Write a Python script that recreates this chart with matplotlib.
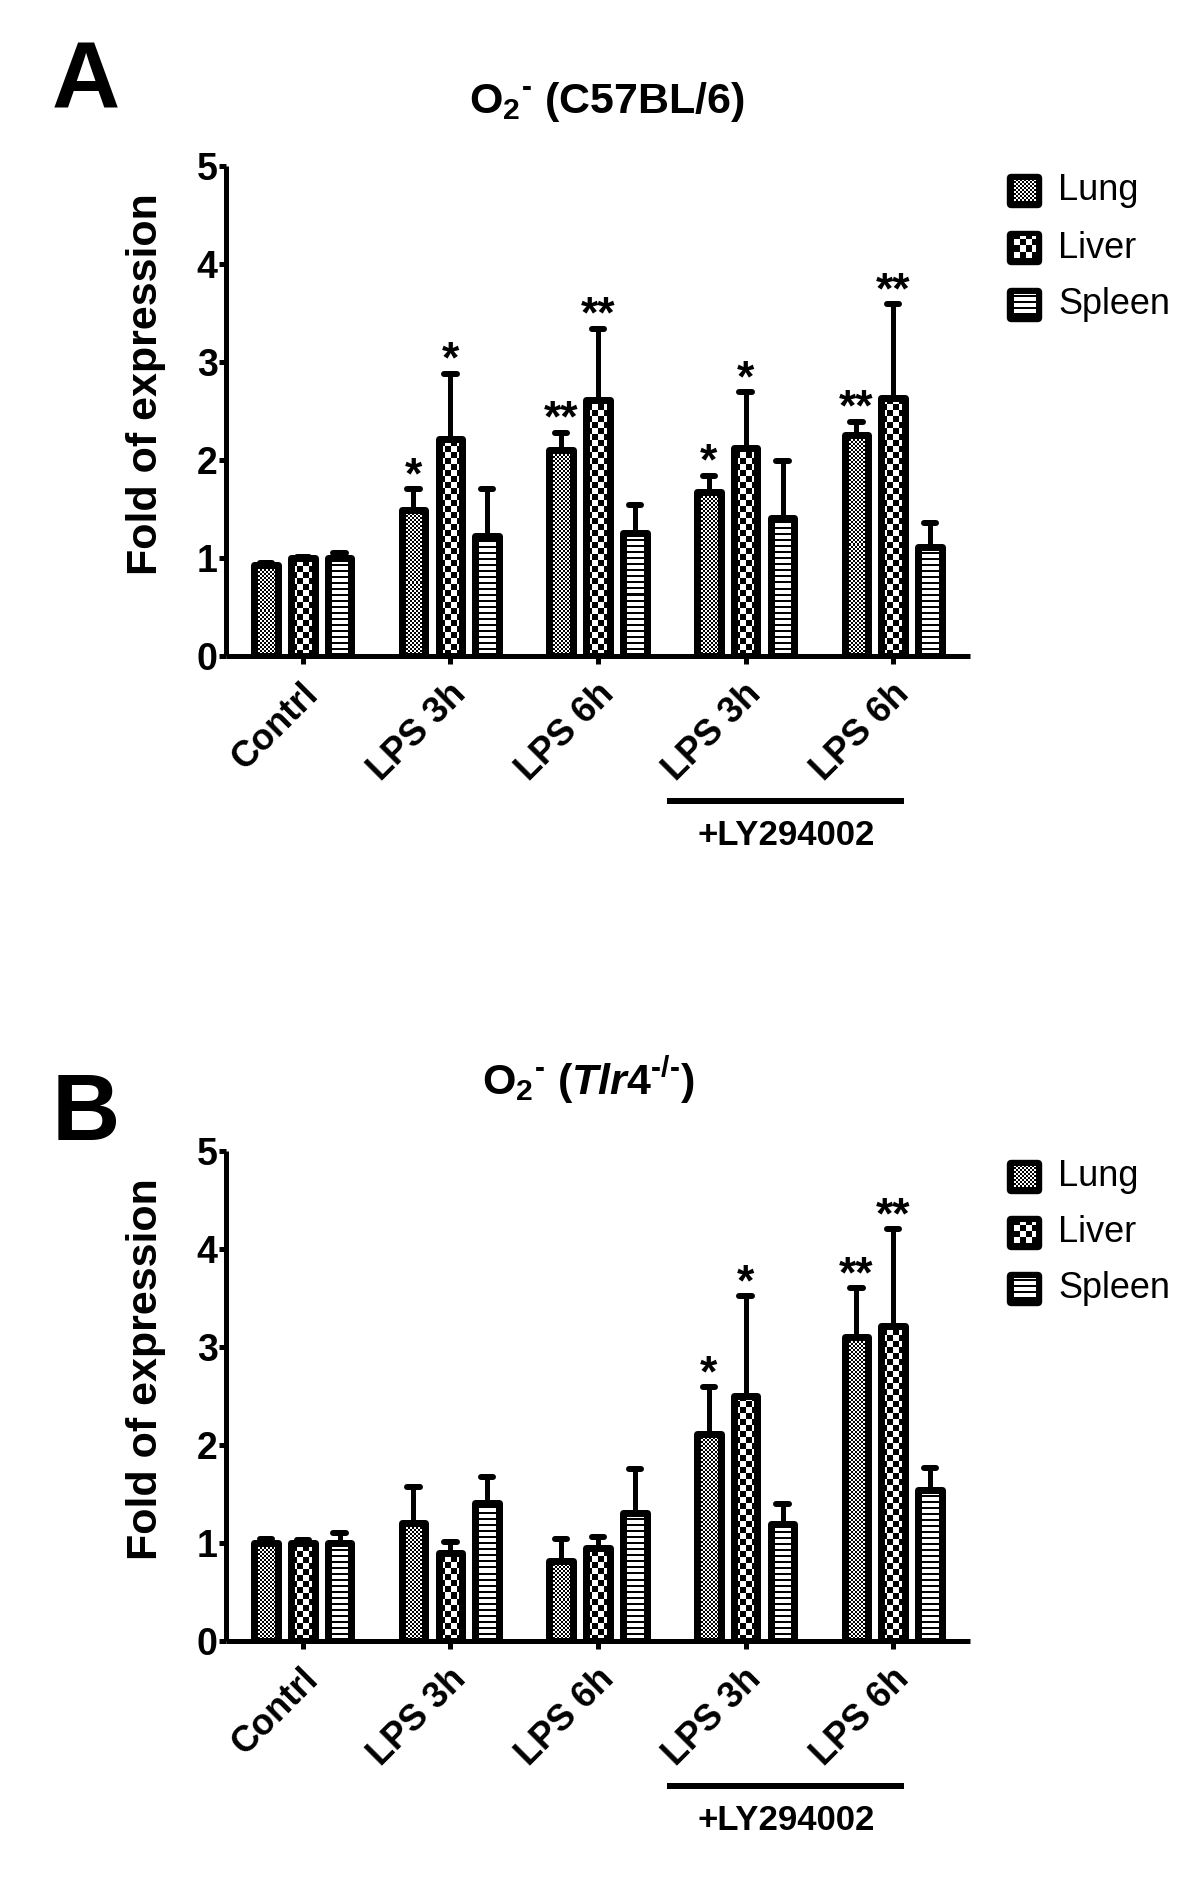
import numpy as np
import matplotlib
matplotlib.use('Agg')
import matplotlib.pyplot as plt
from matplotlib.patches import FancyBboxPatch
from matplotlib.transforms import ScaledTranslation, blended_transform_factory

# ---------------- data ----------------
categories = ['Contrl', 'LPS 3h', 'LPS 6h', 'LPS 3h', 'LPS 6h']
tissues = ['Lung', 'Liver', 'Spleen']

a_lung = [0.93, 1.49, 2.10, 1.67, 2.26]
a_lung_err = [0.02, 0.21, 0.18, 0.17, 0.13]
a_liver = [1.00, 2.21, 2.61, 2.12, 2.63]
a_liver_err = [0.01, 0.67, 0.73, 0.57, 0.96]
a_spleen = [1.00, 1.22, 1.26, 1.41, 1.11]
a_spleen_err = [0.05, 0.48, 0.28, 0.58, 0.25]
a_stars_lung = ['', '*', '**', '*', '**']
a_stars_liver = ['', '*', '**', '*', '**']

b_lung = [1.00, 1.20, 0.82, 2.11, 3.10]
b_lung_err = [0.04, 0.37, 0.22, 0.48, 0.50]
b_liver = [1.00, 0.90, 0.95, 2.50, 3.21]
b_liver_err = [0.03, 0.11, 0.11, 1.02, 0.99]
b_spleen = [1.00, 1.41, 1.31, 1.19, 1.54]
b_spleen_err = [0.10, 0.26, 0.45, 0.21, 0.23]
b_stars_lung = ['', '', '', '*', '**']
b_stars_liver = ['', '', '', '*', '**']

yticks = [0, 1, 2, 3, 4, 5]

# ---------------- style ----------------
plt.rcParams['font.family'] = ['Liberation Sans', 'DejaVu Sans']
plt.rcParams['mathtext.fontset'] = 'custom'
plt.rcParams['mathtext.rm'] = 'Liberation Sans:bold'
plt.rcParams['mathtext.bf'] = 'Liberation Sans:bold'
plt.rcParams['mathtext.it'] = 'Liberation Sans:bold:italic'

W, H = 1200, 1895
DPI = 100
fig = plt.figure(figsize=(W / DPI, H / DPI), dpi=DPI)
fig.patch.set_facecolor('white')

PX = 72.0 / DPI  # points per pixel
HY = '\u2010'


def pattern(kind, w, h):
    yy, xx = np.mgrid[0:h, 0:w]
    if kind == 'Lung':
        c = 2
        return ((xx // c + yy // c) % 2).astype(float)
    if kind == 'Liver':
        c = 6
        return ((xx // c + yy // c) % 2).astype(float)
    return ((yy % 6) < 2).astype(float)


def panel(rect, series, errs, stars, legend_rows, title, letter, letter_base, title_base):
    ax = fig.add_axes(rect)
    ax.set_xlim(-0.52, 4.52)
    ax.set_ylim(0, 5)
    x = np.arange(len(categories))
    offs = [-0.25, 0.0, 0.25]
    bw = 0.160
    for k, (vals, err) in enumerate(zip(series, errs)):
        xs = x + offs[k]
        vals = np.asarray(vals)
        err = np.asarray(err)
        ax.vlines(xs, vals, vals + err, colors='k', lw=5 * PX, zorder=1.5)
        caps = ax.hlines(vals + err, xs - 0.042, xs + 0.042, colors='k', lw=6 * PX, zorder=1.5)
        caps.set_capstyle('round')
        bars = ax.bar(xs, vals, width=bw, facecolor='none', edgecolor='k',
                      linewidth=7 * PX, zorder=3, joinstyle='round', label=tissues[k])
        for b in bars:
            x0, w0, h0 = b.get_x(), b.get_width(), b.get_height()
            p0 = ax.transData.transform((x0, 0))
            p1 = ax.transData.transform((x0 + w0, h0))
            wp = max(int(round(p1[0] - p0[0])), 1)
            hp = max(int(round(p1[1] - p0[1])), 1)
            im = ax.imshow(pattern(tissues[k], wp, hp), extent=(x0, x0 + w0, 0, h0),
                           origin='lower', cmap='gray_r', vmin=0, vmax=1,
                           interpolation='nearest', aspect='auto', zorder=2)
            im.set_clip_path(b)
    for k, st in ((0, stars[0]), (1, stars[1])):
        for i, s in enumerate(st):
            if s:
                top = series[k][i] + errs[k][i]
                ax.annotate(s, xy=(x[i] + offs[k], top), xytext=(0, 1),
                            textcoords='offset pixels', ha='center', va='baseline',
                            fontsize=32, fontweight='bold', zorder=5)
    ax.set_xlim(-0.52, 4.52)
    ax.set_ylim(0, 5)
    for s in ('top', 'right'):
        ax.spines[s].set_visible(False)
    for s in ('left', 'bottom'):
        ax.spines[s].set_linewidth(5 * PX)
        ax.spines[s].set_capstyle('butt')
    ax.set_yticks(yticks)
    ax.set_yticklabels([str(t) for t in yticks], fontsize=27, fontweight='bold')
    ax.set_xticks(x)
    ax.set_xticklabels(categories, fontsize=26, fontweight='bold', rotation=45,
                       ha='right', va='top', rotation_mode='anchor')
    ax.tick_params(axis='y', length=7 * PX, width=5 * PX, pad=1, direction='out')
    ax.tick_params(axis='x', length=8 * PX, width=5 * PX, pad=9, direction='out')
    off = ScaledTranslation(-2 / DPI, 0, fig.dpi_scale_trans)
    for lab in ax.get_xticklabels():
        lab.set_transform(lab.get_transform() + off)
    ax.set_ylabel('Fold of expression', fontsize=31, fontweight='bold')
    ax.yaxis.set_label_coords(-0.080, 0.555)
    tr = blended_transform_factory(ax.transData, ax.transAxes)
    ax.plot([2.47, 4.07], [-0.295, -0.295], color='k', lw=6 * PX, transform=tr,
            clip_on=False, solid_capstyle='butt')
    ax.text(3.276, -0.386, '+LY294002', transform=tr, ha='center', va='baseline',
            fontsize=25, fontweight='bold')
    for k, yc in enumerate(legend_rows):
        la = fig.add_axes([1006 / W, 1 - (yc + 18) / H, 37 / W, 36 / H])
        la.axis('off')
        la.add_patch(FancyBboxPatch((1.5, 1.5), 34, 33,
                                    boxstyle='round,pad=0,rounding_size=4',
                                    facecolor='k', edgecolor='k', lw=1))
        la.imshow(pattern(tissues[k], 22, 21), extent=(7.5, 29.5, 7.5, 28.5), origin='lower',
                  cmap='gray_r', vmin=0, vmax=1, interpolation='nearest', aspect='auto', zorder=3)
        la.set_xlim(0, 37)
        la.set_ylim(0, 36)
        fig.text(1058 / W, 1 - yc / H, tissues[k], fontsize=26, va='center', ha='left')
    fig.text(86 / W, 1 - letter_base / H, letter, fontsize=68, fontweight='bold',
             ha='center', va='baseline')
    fig.text(title[1] / W, 1 - title_base / H, title[0], fontsize=31, fontweight='bold',
             ha='center', va='baseline')
    return ax


axA = panel([226 / W, (H - 656) / H, 744 / W, 490 / H],
            [a_lung, a_liver, a_spleen], [a_lung_err, a_liver_err, a_spleen_err],
            [a_stars_lung, a_stars_liver], [191, 248, 305],
            ('O$_{2}{}^{' + HY + '}$ (C57BL/6)', 607), 'A', 109, 113)
axB = panel([226 / W, (H - 1641) / H, 744 / W, 490 / H],
            [b_lung, b_liver, b_spleen], [b_lung_err, b_liver_err, b_spleen_err],
            [b_stars_lung, b_stars_liver], [1177, 1233, 1289],
            ('O$_{2}{}^{' + HY + '}$ ($\\mathit{Tlr4}^{' + HY + '/' + HY + '}$)', 588), 'B', 1140, 1095)

fig.savefig('out.png', dpi=DPI, facecolor='white')
